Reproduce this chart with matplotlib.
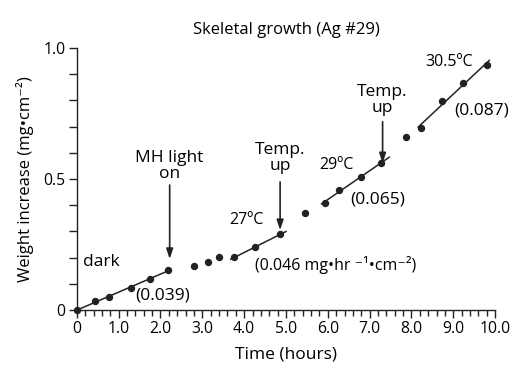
import numpy as np
import matplotlib.pyplot as plt
from matplotlib.ticker import MultipleLocator

# data
hours = [0, 0.43, 0.78, 1.29, 1.75, 2.17, 2.81, 3.13, 3.41, 3.76, 4.25,
         4.86, 5.45, 5.93, 6.27, 6.79, 7.28, 7.87, 8.22, 8.73, 9.24, 9.80]
weight = [0, 0.034, 0.051, 0.085, 0.118, 0.153, 0.168, 0.184, 0.203, 0.201,
          0.239, 0.289, 0.371, 0.408, 0.459, 0.509, 0.560, 0.660, 0.695,
          0.798, 0.865, 0.935]

# (first point, last point, line start, line end) for each fitted segment
segments = [(0, 5, 0.0, 2.25), (9, 11, 3.68, 5.0),
            (13, 16, 5.85, 7.47), (18, 21, 8.16, 9.86)]

xtick_vals = [0, 1, 2, 3, 4, 5, 6, 7, 8, 9, 10]
xtick_labels = ['0', '1.0', '2.0', '3.0', '4.0', '5.0', '6.0', '7.0', '8.0', '9.0', '10.0']
ytick_vals = [0, 0.5, 1.0]
ytick_labels = ['0', '0.5', '1.0']

plt.rcParams['font.family'] = ['Open Sans', 'DejaVu Sans']
ink = '#222222'

fig = plt.figure(figsize=(5.19, 3.71), dpi=100)
ax = fig.add_axes([0.148, 0.164, 0.806, 0.707])

ax.plot(hours, weight, 'o', color=ink, markersize=4.3, clip_on=False, zorder=3)

for i0, i1, xa, xb in segments:
    k, b = np.polyfit(hours[i0:i1 + 1], weight[i0:i1 + 1], 1)
    xs = np.array([xa, xb])
    ax.plot(xs, k * xs + b, '-', color=ink, linewidth=1.1, clip_on=False)

ax.set_xlim(0, 10)
ax.set_ylim(0, 1.0)
ax.set_xticks(xtick_vals)
ax.set_xticklabels(xtick_labels)
ax.set_yticks(ytick_vals)
ax.set_yticklabels(ytick_labels)
ax.xaxis.set_minor_locator(MultipleLocator(0.2))
ax.yaxis.set_minor_locator(MultipleLocator(0.1))
ax.tick_params(which='major', length=6, width=1, color=ink, labelsize=11.3, pad=2)
ax.tick_params(which='minor', length=4, width=1, color=ink)
ax.tick_params(axis='y', which='minor', length=6)
for s in ['top', 'right']:
    ax.spines[s].set_visible(False)
for s in ['left', 'bottom']:
    ax.spines[s].set_color(ink)
    ax.spines[s].set_linewidth(1)

ax.set_title('Skeletal growth (Ag #29)', fontsize=12, pad=10)
ax.set_xlabel('Time (hours)', fontsize=12.5, labelpad=7)
ax.set_ylabel('Weight increase (mg•cm⁻²)', fontsize=12, labelpad=7)

fs = 12.5
ax.text(0.15, 0.183, 'dark', fontsize=fs, va='center', ha='left')
ax.text(2.06, 0.057, '(0.039)', fontsize=fs, va='center', ha='center')
ax.text(2.22, 0.55, 'MH light\non', fontsize=fs, va='center', ha='center', linespacing=1.0)
ax.text(4.86, 0.58, 'Temp.\nup', fontsize=fs, va='center', ha='center', linespacing=1.0)
ax.text(4.06, 0.343, '27ºC', fontsize=11.5, va='center', ha='center')
ax.text(4.25, 0.172, '(0.046 mg•hr ⁻¹•cm⁻²)', fontsize=11.5, va='center', ha='left')
ax.text(6.21, 0.553, '29ºC', fontsize=11.5, va='center', ha='center')
ax.text(7.2, 0.42, '(0.065)', fontsize=fs, va='center', ha='center')
ax.text(7.31, 0.80, 'Temp.\nup', fontsize=fs, va='center', ha='center', linespacing=1.0)
ax.text(8.9, 0.947, '30.5ºC', fontsize=11.5, va='center', ha='center')
ax.text(9.68, 0.763, '(0.087)', fontsize=fs, va='center', ha='center')

arrow = dict(arrowstyle='-|>,head_length=0.6,head_width=0.2', color=ink, lw=1.2,
             shrinkA=0, shrinkB=0)
for x, y0, y1 in [(2.22, 0.477, 0.195), (4.86, 0.489, 0.305), (7.31, 0.718, 0.56)]:
    ax.annotate('', xy=(x, y1), xytext=(x, y0), arrowprops=arrow)

fig.savefig('out.png', dpi=100)
